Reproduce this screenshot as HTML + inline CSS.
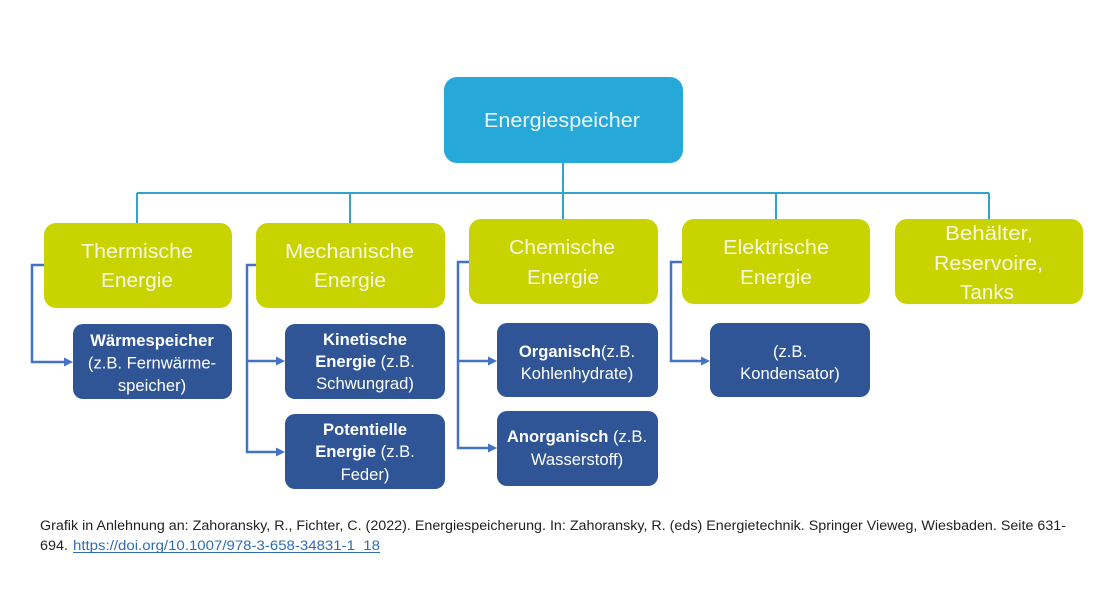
<!DOCTYPE html>
<html>
<head>
<meta charset="utf-8">
<style>
  html,body{margin:0;padding:0;background:#fff;}
  svg{display:block;}
  .g{font-family:"Liberation Sans",sans-serif;font-size:20px;fill:#f7f7e0;}
  .d{font-family:"Liberation Sans",sans-serif;font-size:16.6px;fill:#fff;}
  .b{font-weight:bold;}
  .f{font-family:"Liberation Sans",sans-serif;font-size:13.5px;fill:#222;}
</style>
</head>
<body>
<svg width="1115" height="590" viewBox="0 0 1115 590" xmlns="http://www.w3.org/2000/svg">
  <rect x="0" y="0" width="1115" height="590" fill="#fff"/>

  <!-- top connectors -->
  <g stroke="#33A2CF" stroke-width="2" fill="none">
    <path d="M563,163 V193"/>
    <path d="M137,193 H989"/>
    <path d="M137,193 V223"/>
    <path d="M350,193 V223"/>
    <path d="M563,193 V219"/>
    <path d="M776,193 V219"/>
    <path d="M989,193 V219"/>
  </g>

  <!-- top box -->
  <rect x="444" y="77" width="239" height="86" rx="13" fill="#26A8D8"/>
  <text class="g" x="484" y="127" textLength="156" lengthAdjust="spacingAndGlyphs" style="font-size:20px;fill:#eaf6fb">Energiespeicher</text>

  <!-- green boxes -->
  <g fill="#C9D300">
    <rect x="44" y="223" width="188" height="85" rx="12"/>
    <rect x="256" y="223" width="189" height="85" rx="12"/>
    <rect x="469" y="219" width="189" height="85" rx="12"/>
    <rect x="682" y="219" width="188" height="85" rx="12"/>
    <rect x="895" y="219" width="188" height="85" rx="12"/>
  </g>
  <text class="g" x="81" y="258" textLength="112" lengthAdjust="spacingAndGlyphs">Thermische</text>
  <text class="g" x="101" y="287" textLength="72" lengthAdjust="spacingAndGlyphs">Energie</text>
  <text class="g" x="285" y="258" textLength="129" lengthAdjust="spacingAndGlyphs">Mechanische</text>
  <text class="g" x="314" y="287" textLength="72" lengthAdjust="spacingAndGlyphs">Energie</text>
  <text class="g" x="509" y="254" textLength="106" lengthAdjust="spacingAndGlyphs">Chemische</text>
  <text class="g" x="527" y="284" textLength="72" lengthAdjust="spacingAndGlyphs">Energie</text>
  <text class="g" x="723" y="254" textLength="106" lengthAdjust="spacingAndGlyphs">Elektrische</text>
  <text class="g" x="740" y="284" textLength="72" lengthAdjust="spacingAndGlyphs">Energie</text>
  <text class="g" x="945" y="240" textLength="88" lengthAdjust="spacingAndGlyphs">Behälter,</text>
  <text class="g" x="934" y="270" textLength="109" lengthAdjust="spacingAndGlyphs">Reservoire,</text>
  <text class="g" x="960" y="299" textLength="54" lengthAdjust="spacingAndGlyphs">Tanks</text>

  <!-- dark connectors -->
  <g stroke="#4472C4" stroke-width="2.5" fill="none">
    <path d="M44,265 H32 V362 H65"/>
    <path d="M256,265 H247 V452 H277"/>
    <path d="M247,361 H277"/>
    <path d="M469,262 H458 V448 H489"/>
    <path d="M458,361 H489"/>
    <path d="M682,262 H671 V361 H702"/>
  </g>
  <g fill="#4472C4">
    <polygon points="73,362 64,357.5 64,366.5"/>
    <polygon points="285,361 276,356.5 276,365.5"/>
    <polygon points="285,452 276,447.5 276,456.5"/>
    <polygon points="497,361 488,356.5 488,365.5"/>
    <polygon points="497,448 488,443.5 488,452.5"/>
    <polygon points="710,361 701,356.5 701,365.5"/>
  </g>

  <!-- dark boxes -->
  <g fill="#2F5597">
    <rect x="73" y="324" width="159" height="75" rx="10"/>
    <rect x="285" y="324" width="160" height="75" rx="10"/>
    <rect x="285" y="414" width="160" height="75" rx="10"/>
    <rect x="497" y="323" width="161" height="74" rx="10"/>
    <rect x="497" y="411" width="161" height="75" rx="10"/>
    <rect x="710" y="323" width="160" height="74" rx="10"/>
  </g>
  <g class="d" text-anchor="middle">
    <text x="152" y="346" class="d b">Wärmespeicher</text>
    <text x="152" y="368.5" class="d">(z.B. Fernwärme-</text>
    <text x="152" y="391" class="d">speicher)</text>

    <text x="365" y="345" class="d b">Kinetische</text>
    <text x="365" y="367" class="d"><tspan class="b">Energie</tspan> (z.B.</text>
    <text x="365" y="389" class="d">Schwungrad)</text>

    <text x="365" y="435" class="d b">Potentielle</text>
    <text x="365" y="457" class="d"><tspan class="b">Energie</tspan> (z.B.</text>
    <text x="365" y="480" class="d">Feder)</text>

    <text x="577" y="357" class="d"><tspan class="b">Organisch</tspan>(z.B.</text>
    <text x="577" y="379" class="d">Kohlenhydrate)</text>

    <text x="577" y="442" class="d"><tspan class="b">Anorganisch</tspan> (z.B.</text>
    <text x="577" y="465" class="d">Wasserstoff)</text>

    <text x="790" y="357" class="d">(z.B.</text>
    <text x="790" y="379" class="d">Kondensator)</text>
  </g>

  <!-- footer -->
  <text class="f" x="40" y="530" textLength="1026" lengthAdjust="spacingAndGlyphs">Grafik in Anlehnung  an: Zahoransky, R., Fichter, C. (2022). Energiespeicherung. In: Zahoransky, R. (eds) Energietechnik. Springer Vieweg, Wiesbaden. Seite 631-</text>
  <text class="f" x="40" y="550" textLength="28" lengthAdjust="spacingAndGlyphs">694.</text>
  <text class="f" x="73" y="550" textLength="307" lengthAdjust="spacingAndGlyphs" style="fill:#2E6DB4">https://doi.org/10.1007/978-3-658-34831-1_18</text>
  <line x1="73" y1="552.5" x2="380" y2="552.5" stroke="#2E6DB4" stroke-width="1"/>
</svg>
</body>
</html>
